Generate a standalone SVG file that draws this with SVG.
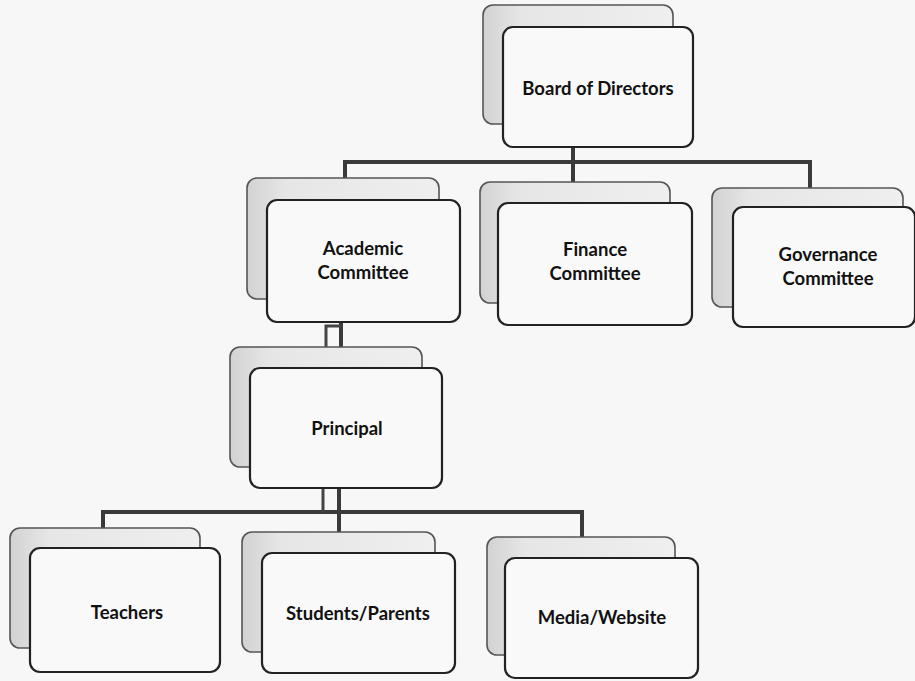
<svg xmlns="http://www.w3.org/2000/svg" width="915" height="681" viewBox="0 0 915 681">
  <defs>
    <linearGradient id="backg" x1="0" y1="0" x2="1" y2="0">
      <stop offset="0" stop-color="#d2d2d2"/>
      <stop offset="0.2" stop-color="#e6e6e6"/>
      <stop offset="1" stop-color="#efefef"/>
    </linearGradient>
  </defs>
  <style>
    .back { fill: url(#backg); stroke: #555; stroke-width: 1.6; }
    .front { fill: #f9f9f9; stroke: #222; stroke-width: 2.2; }
    .lbl { font-family: Lato, "Open Sans", "Liberation Sans", sans-serif; font-weight: bold; font-size: 18.5px; fill: #111; text-anchor: middle; }
    .conn { fill: none; stroke: #3a3a3a; stroke-width: 4; }
    .conn2 { fill: none; stroke: #444; stroke-width: 3; }
  </style>
  <rect width="915" height="681" fill="#f7f7f7"/>

  <g id="connectors">
    <line class="conn" x1="573" y1="147" x2="573" y2="182"/>
    <polyline class="conn" points="345,178 345,162 810,162 810,188"/>
    <line class="conn" x1="341" y1="320" x2="341" y2="348"/>
    <polyline class="conn2" points="341,326 326,326 326,348"/>
    <polyline class="conn" points="103,528 103,512 582,512 582,537"/>
    <line class="conn2" x1="323" y1="488" x2="323" y2="512"/>
    <line class="conn" x1="339" y1="488" x2="339" y2="532"/>
  </g>

  <g id="board">
    <rect class="back" x="483" y="5" width="190" height="119" rx="10"/>
    <rect class="front" x="503" y="27" width="190" height="120" rx="10"/>
    <text class="lbl" x="598" y="95">Board of Directors</text>
  </g>

  <g id="academic">
    <rect class="back" x="247" y="178" width="192" height="121" rx="10"/>
    <rect class="front" x="267" y="200" width="193" height="122" rx="10"/>
    <text class="lbl" x="363" y="255">Academic</text>
    <text class="lbl" x="363" y="279">Committee</text>
  </g>

  <g id="finance">
    <rect class="back" x="480" y="182" width="190" height="121" rx="10"/>
    <rect class="front" x="498" y="203" width="194" height="122" rx="10"/>
    <text class="lbl" x="595" y="256">Finance</text>
    <text class="lbl" x="595" y="280">Committee</text>
  </g>

  <g id="governance">
    <rect class="back" x="712" y="188" width="191" height="119" rx="10"/>
    <rect class="front" x="733" y="207" width="182" height="120" rx="10"/>
    <text class="lbl" x="828" y="261">Governance</text>
    <text class="lbl" x="828" y="285">Committee</text>
  </g>

  <g id="principal">
    <rect class="back" x="230" y="347" width="192" height="120" rx="10"/>
    <rect class="front" x="250" y="368" width="192" height="120" rx="10"/>
    <text class="lbl" x="347" y="435">Principal</text>
  </g>

  <g id="teachers">
    <rect class="back" x="10" y="528" width="190" height="120" rx="10"/>
    <rect class="front" x="30" y="548" width="190" height="124" rx="10"/>
    <text class="lbl" x="127" y="619">Teachers</text>
  </g>

  <g id="students">
    <rect class="back" x="242" y="532" width="193" height="120" rx="10"/>
    <rect class="front" x="262" y="553" width="193" height="120" rx="10"/>
    <text class="lbl" x="358" y="620">Students/Parents</text>
  </g>

  <g id="media">
    <rect class="back" x="487" y="537" width="188" height="118" rx="10"/>
    <rect class="front" x="505" y="558" width="193" height="120" rx="10"/>
    <text class="lbl" x="602" y="624">Media/Website</text>
  </g>
</svg>
